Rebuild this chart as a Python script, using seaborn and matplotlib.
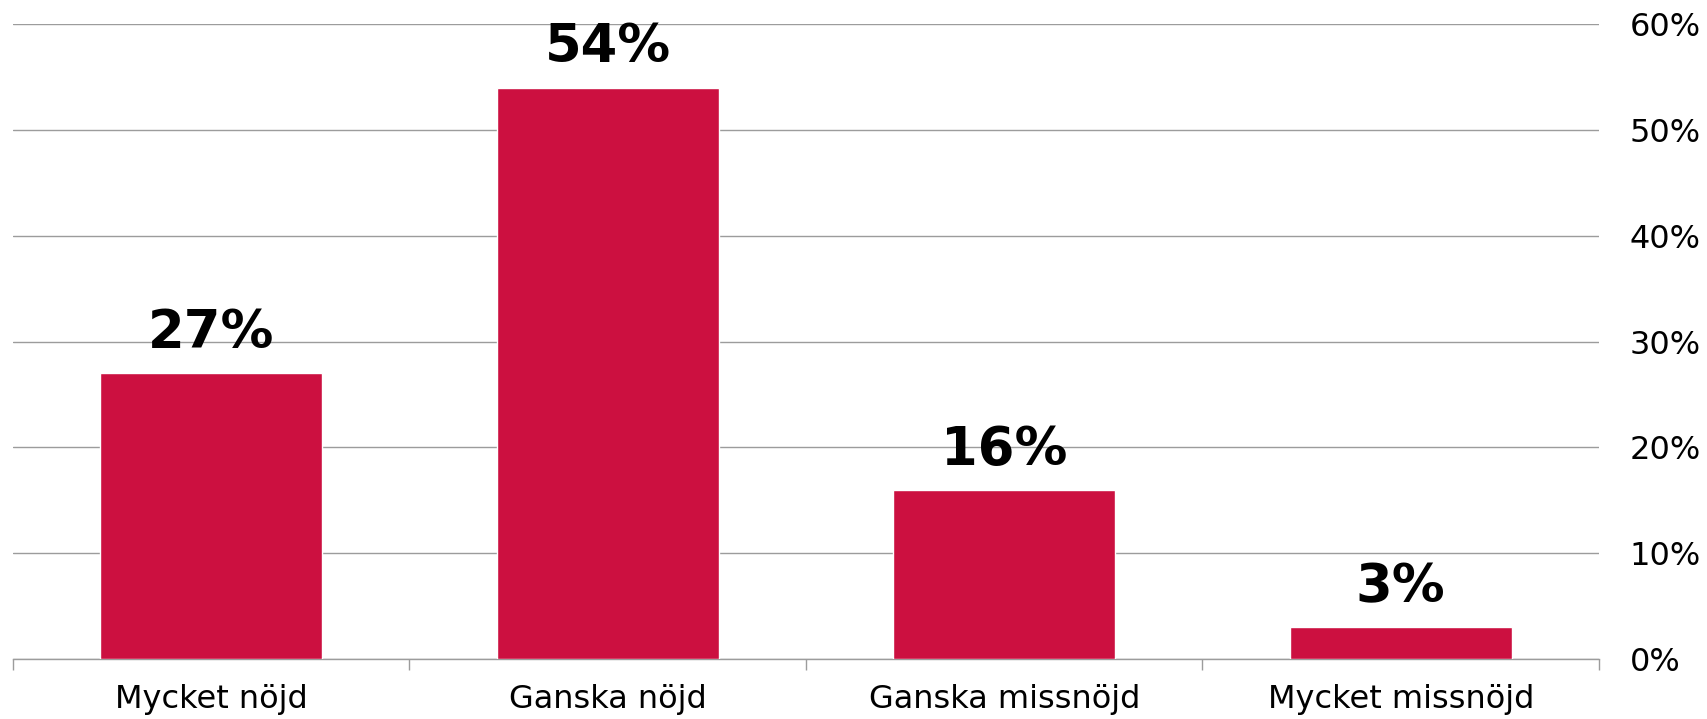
import matplotlib
matplotlib.use("Agg")
import matplotlib.pyplot as plt
import seaborn as sns
import pandas as pd

# --- data ---
categories = ["Mycket nöjd", "Ganska nöjd", "Ganska missnöjd", "Mycket missnöjd"]
values = [27, 54, 16, 3]
y_ticks = [0, 10, 20, 30, 40, 50, 60]

BAR_COLOR = "#CC1040"
GRID_COLOR = "#9C9C9C"

sns.set_theme(style="white")
plt.rcParams["font.family"] = ["DejaVu Sans"]

df = pd.DataFrame({"kategori": categories, "andel": values})

fig = plt.figure(figsize=(17.07, 7.19), dpi=100)
ax = fig.add_axes([13 / 1707, 1 - 659 / 719, (1599 - 13) / 1707, (659 - 24) / 719])

sns.barplot(data=df, x="kategori", y="andel", color=BAR_COLOR, width=0.56,
            saturation=1, ax=ax, zorder=3)

ax.set_xlim(-0.5, len(categories) - 0.5)
ax.set_ylim(0, 60)
ax.set_yticks(y_ticks)
ax.set_yticklabels([f"{t}%" for t in y_ticks])
ax.yaxis.tick_right()
ax.yaxis.grid(True, color=GRID_COLOR, linewidth=1, zorder=0)
ax.set_axisbelow(True)
ax.tick_params(axis="y", length=0, pad=22, labelsize=23, labelcolor="black")

# category boundaries as small ticks below the axis
ax.set_xticks([i - 0.5 for i in range(len(categories) + 1)], minor=True)
ax.tick_params(axis="x", which="minor", length=8, width=1, color=GRID_COLOR,
               direction="out", bottom=True)
ax.tick_params(axis="x", which="major", length=0, pad=18, labelsize=23,
               labelcolor="black")

for side in ["top", "right", "left"]:
    ax.spines[side].set_visible(False)
ax.spines["bottom"].set_color(GRID_COLOR)
ax.spines["bottom"].set_linewidth(1)

ax.set_xlabel("")
ax.set_ylabel("")

for i, v in enumerate(values):
    ax.annotate(f"{v}%", (i, v), xytext=(0, 18), textcoords="offset points",
                ha="center", va="baseline", fontsize=38, fontweight="bold",
                color="black")

plt.savefig("out.png", dpi=100)
plt.close()
